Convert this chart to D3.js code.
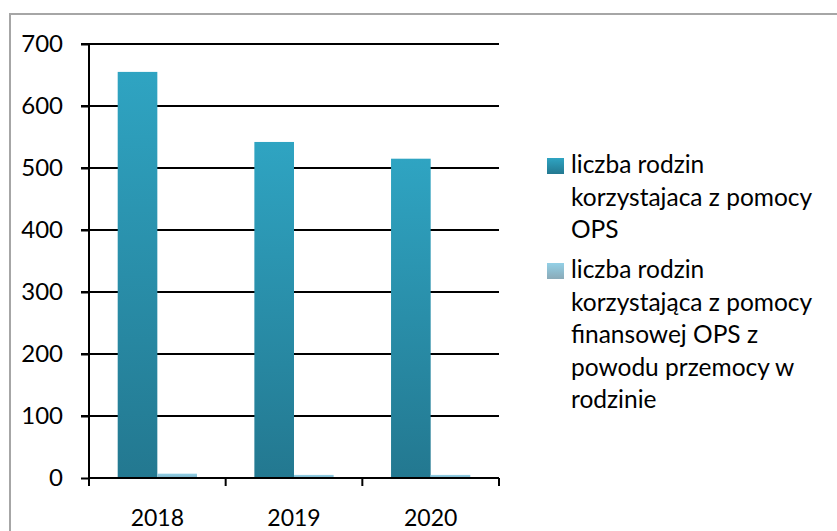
<!DOCTYPE html>
<html><head><meta charset="utf-8">
<script src="https://cdn.jsdelivr.net/npm/d3@7"></script>
<style>body{margin:0;background:#fff;} svg{display:block;font-family:Lato,sans-serif;}</style>
</head><body>
<script>
const categories = ["2018", "2019", "2020"];
const seriesNames = ["liczba rodzin korzystajaca z pomocy OPS",
  "liczba rodzin korzystająca z pomocy finansowej OPS z powodu przemocy w rodzinie"];
const legendLines = [["liczba rodzin", "korzystajaca z pomocy", "OPS"],
  ["liczba rodzin", "korzystająca z pomocy", "finansowej OPS z", "powodu przemocy w", "rodzinie"]];
const series1 = [655, 542, 515];
const series2 = [7, 5, 5];
const yTicks = [0, 100, 200, 300, 400, 500, 600, 700];

const W = 837, H = 531;
const svg = d3.select("body").append("svg").attr("width", W).attr("height", H);
const defs = svg.append("defs");
function grad(id, top, bottom) {
  const g = defs.append("linearGradient").attr("id", id).attr("x1", 0).attr("y1", 0).attr("x2", 0).attr("y2", 1);
  g.append("stop").attr("offset", "0%").attr("stop-color", top);
  g.append("stop").attr("offset", "100%").attr("stop-color", bottom);
}
grad("g1", "#2fa4c2", "#237890");
grad("g2", "#93d0e6", "#7bb3c8");
grad("lg2", "#93d0e6", "#8aaab8");

// outer frame
svg.append("rect").attr("x", 10).attr("y", 14).attr("width", 840).attr("height", 540)
  .attr("fill", "none").attr("stroke", "#a6a6a6").attr("stroke-width", 2);

const x0 = 89, x1 = 499, yTop = 44, yBot = 478;
const x = d3.scaleBand().domain(categories).range([x0, x1]).paddingInner(0.42).paddingOuter(0.21);
const xs = d3.scaleBand().domain([0, 1]).range([0, x.bandwidth()]);
const y = d3.scaleLinear().domain([0, 700]).range([yBot, yTop]);

// gridlines
svg.append("g").selectAll("line").data(yTicks.filter(d => d > 0)).join("line")
  .attr("x1", x0 - 8).attr("x2", x1).attr("y1", d => y(d)).attr("y2", d => y(d))
  .attr("stroke", "#000").attr("stroke-width", 2);

// bars
const data = categories.map((c, i) => ({c, v: [series1[i], series2[i]]}));
const grp = svg.append("g").selectAll("g").data(data).join("g").attr("transform", d => `translate(${x(d.c)},0)`);
grp.selectAll("rect").data(d => d.v.map((v, k) => ({v, k}))).join("rect")
  .attr("x", d => xs(d.k)).attr("width", xs.bandwidth())
  .attr("y", d => y(d.v)).attr("height", d => yBot - y(d.v))
  .attr("fill", d => d.k === 0 ? "url(#g1)" : "url(#g2)");

// y axis
const ya = svg.append("g").attr("transform", `translate(${x0},0)`)
  .call(d3.axisLeft(y).tickValues(yTicks).tickSize(8).tickPadding(18));
ya.select(".domain").attr("d", `M0,${yTop}V${yBot + 8}`).attr("stroke", "#000").attr("stroke-width", 2);
ya.selectAll(".tick line").attr("stroke", "#000").attr("stroke-width", 2);
ya.selectAll(".tick text").attr("font-size", 24).attr("fill", "#000").attr("font-family", "Lato,sans-serif");

// x axis
const xPos = d3.scalePoint().domain([0, 1, 2, 3]).range([x0, x1]);
svg.append("line").attr("x1", x0).attr("x2", x1).attr("y1", yBot).attr("y2", yBot).attr("stroke", "#000").attr("stroke-width", 2);
svg.append("g").selectAll("line").data([1, 2, 3]).join("line")
  .attr("x1", d => xPos(d)).attr("x2", d => xPos(d)).attr("y1", yBot).attr("y2", yBot + 8)
  .attr("stroke", "#000").attr("stroke-width", 2);
svg.append("g").selectAll("text").data(categories).join("text")
  .attr("x", d => x(d) + x.bandwidth() / 2).attr("y", 526)
  .attr("text-anchor", "middle").attr("font-size", 23).attr("fill", "#000").text(d => d);

// legend
const legY = [165, 270];
const lg = svg.append("g");
legendLines.forEach((lines, i) => {
  lg.append("rect").attr("x", 547).attr("y", legY[i] - 7).attr("width", 17).attr("height", 16)
    .attr("fill", i === 0 ? "url(#g1)" : "url(#lg2)");
  const t = lg.append("text").attr("font-size", 24.5).attr("fill", "#000");
  lines.forEach((l, j) => t.append("tspan").attr("x", 571).attr("y", legY[i] + 8 + j * 32.5).text(l));
});
</script>
</body></html>
